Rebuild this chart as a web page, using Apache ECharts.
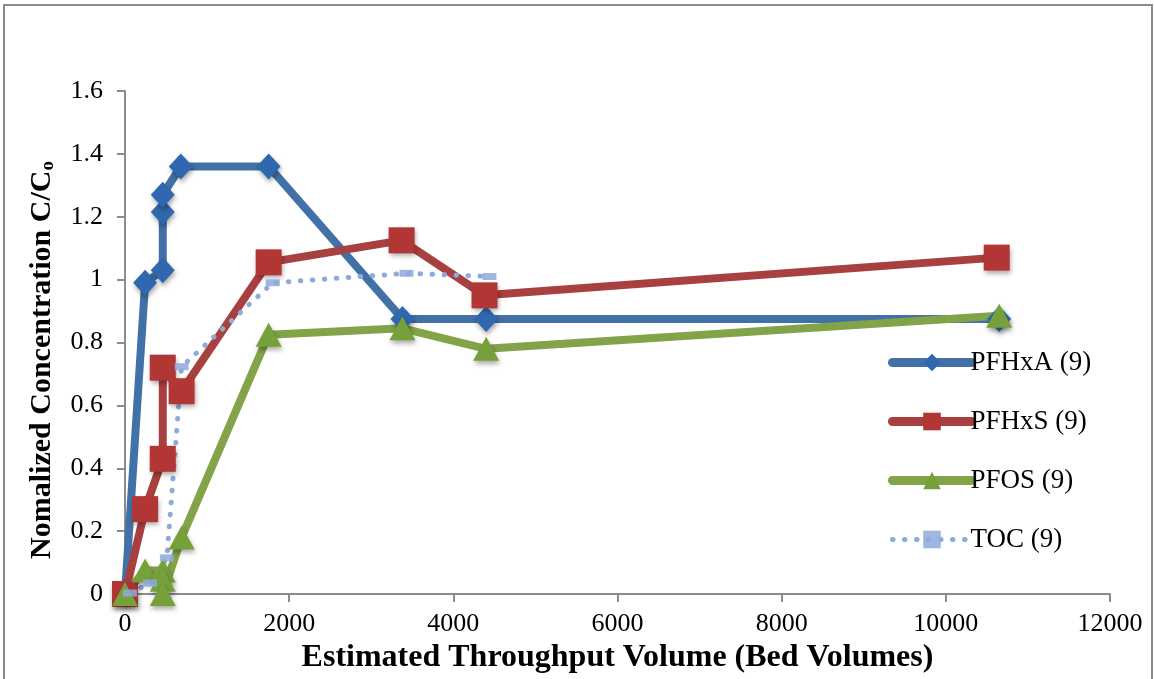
<!DOCTYPE html>
<html>
<head>
<meta charset="utf-8">
<script src="https://cdn.jsdelivr.net/npm/echarts@6/dist/echarts.min.js"></script>
<style>
  html, body { margin: 0; padding: 0; background: #fff; }
  #chart { width: 1154px; height: 679px; }
</style>
</head>
<body>
<div id="chart"></div>
<script>
    // values: [bed volumes, C/Co]
    var pfhxa = [[0, 0], [245, 0.99], [460, 1.03], [460, 1.215], [460, 1.27], [680, 1.36], [1750, 1.36], [3380, 0.875], [4400, 0.875], [10650, 0.875]];
    var pfhxs = [[0, 0], [245, 0.27], [460, 0.43], [460, 0.72], [690, 0.645], [1750, 1.055], [3370, 1.125], [4380, 0.95], [10620, 1.07]];
    var pfos = [[0, 0], [245, 0.075], [460, 0.075], [460, 0.045], [460, 0], [690, 0.18], [1750, 0.825], [3380, 0.845], [4400, 0.78], [10650, 0.885]];
    var toc = [[60, 0.003], [305, 0.035], [510, 0.115], [690, 0.723], [1800, 0.99], [3430, 1.02], [4440, 1.01]];
    var seriesNames = ['PFHxA (9)', 'PFHxS (9)', 'PFOS (9)', 'TOC (9)'];
    var lineColors = ['#4271a8', '#a8403f', '#82a348', '#8eaadb'];

    var serif = '"Liberation Serif", "DejaVu Serif", serif';
    var shadow = {shadowBlur: 5, shadowColor: 'rgba(0,0,0,0.35)', shadowOffsetX: 1, shadowOffsetY: 3};

    function solidSeries(name, data, lineColor, markColor, symbol, size) {
        return {
            name: name,
            type: 'line',
            data: data,
            symbol: symbol,
            symbolSize: size,
            lineStyle: {color: lineColor, width: 8, cap: 'round', join: 'round'},
            itemStyle: Object.assign({color: markColor, borderColor: markColor, borderWidth: 0}, shadow),
            emphasis: {disabled: true},
            animation: false
        };
    }

    var legendData = seriesNames.map(function (n, i) {
        if (i == 3) {
            return {name: n, lineStyle: {width: 5, color: lineColors[3], type: [0.5, 11.5], cap: 'round'}};
        }
        return {name: n, lineStyle: {width: 9, color: lineColors[i], cap: 'round'}};
    });

    var option = {
        backgroundColor: '#fff',
        textStyle: {fontFamily: serif},
        graphic: [{
            type: 'rect',
            shape: {x: 4, y: 5, width: 1148, height: 700},
            style: {fill: 'none', stroke: '#8a8a8a', lineWidth: 2},
            silent: true
        }, {
            type: 'text',
            x: 42,
            y: 360,
            rotation: Math.PI / 2,
            silent: true,
            style: {
                text: 'Nomalized Concentration C/C{sub|o}',
                align: 'center',
                verticalAlign: 'middle',
                fontFamily: serif,
                fontSize: 30,
                fontWeight: 'bold',
                fill: '#000',
                rich: {sub: {fontFamily: serif, fontSize: 19, fontWeight: 'bold', fill: '#000', padding: [12, 0, 0, 0]}}
            }
        }],
        grid: {left: 125, right: 44, top: 91, bottom: 85},
        legend: {
            orient: 'vertical',
            left: 888,
            top: 349,
            padding: 0,
            itemWidth: 79,
            itemHeight: 22,
            itemGap: 32,
            data: legendData,
            textStyle: {fontFamily: serif, fontSize: 27, lineHeight: 27, color: '#000', padding: [0, 0, 0, -6]}
        },
        xAxis: {
            type: 'value',
            min: 0,
            max: 12000,
            interval: 2000,
            name: 'Estimated Throughput Volume (Bed Volumes)',
            nameLocation: 'middle',
            nameGap: 48,
            nameTextStyle: {fontFamily: serif, fontSize: 32, fontWeight: 'bold', color: '#000'},
            axisLine: {lineStyle: {color: '#8c8c8c', width: 2}},
            axisTick: {show: true, length: 8, lineStyle: {color: '#8c8c8c', width: 2}},
            axisLabel: {fontFamily: serif, fontSize: 26, color: '#000', margin: 17, formatter: function (v) { return String(v); }},
            splitLine: {show: false}
        },
        yAxis: {
            type: 'value',
            min: 0,
            max: 1.6,
            interval: 0.2,
            axisLine: {show: true, lineStyle: {color: '#8c8c8c', width: 2}},
            axisTick: {show: true, length: 8, lineStyle: {color: '#8c8c8c', width: 2}},
            axisLabel: {fontFamily: serif, fontSize: 26, color: '#000', margin: 22},
            splitLine: {show: false}
        },
        series: [
            solidSeries(seriesNames[0], pfhxa, lineColors[0], '#2f68ae', 'diamond', [24, 26]),
            solidSeries(seriesNames[1], pfhxs, lineColors[1], '#b23634', 'rect', 26),
            solidSeries(seriesNames[2], pfos, lineColors[2], '#76a03a', 'triangle', [26, 24]),
            {
                name: seriesNames[3],
                type: 'line',
                data: toc,
                symbol: 'rect',
                symbolSize: [14, 7],
                lineStyle: {color: lineColors[3], width: 5, type: [0.5, 11.5], cap: 'round'},
                itemStyle: {color: 'rgba(142,170,219,0.85)', borderWidth: 0},
                emphasis: {disabled: true},
                animation: false
            }
        ]
    };

    var myChart = echarts.init(document.getElementById('chart'));
    myChart.setOption(option);
</script>
</body>
</html>
